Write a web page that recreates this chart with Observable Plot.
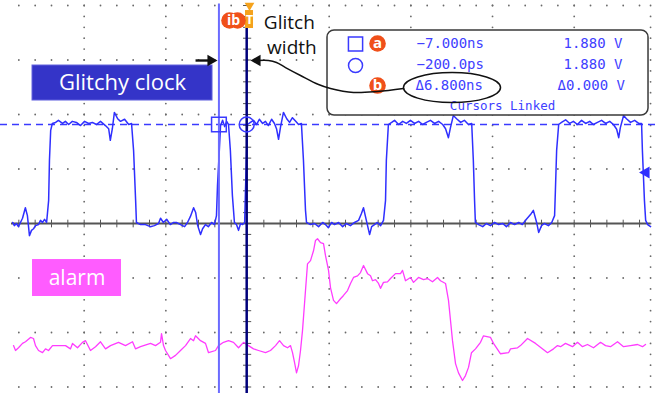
<!DOCTYPE html>
<html><head><meta charset="utf-8">
<script src="https://cdn.jsdelivr.net/npm/d3@7"></script>
<script src="https://cdn.jsdelivr.net/npm/@observablehq/plot@0.6"></script>
<style>html,body{margin:0;padding:0;background:#fff;} #chart svg{display:block}</style>
</head><body><div id="chart"></div>
<script>
// ---- Data: time in ns, amplitude in volts ----
const clock = [
 [-57.5,0.02],[-57.1,-0.04],[-56.6,0],[-56.1,-0.06],[-55.6,0.02],[-55.1,0.10],[-54.4,0.30],[-53.9,0.15],[-53.4,-0.23],[-52.9,-0.13],[-52.4,-0.10],[-51.9,-0.04],[-51.2,-0.02],[-50.7,0.06],[-50.2,0.02],[-49.7,0.08],[-49.2,0.02],[-48.7,0.44],[-48.5,1.20],[-48.2,1.77],[-47.8,1.90],
 [-47.0,1.92],[-46.3,1.96],[-45.3,1.90],[-44.6,1.94],[-43.8,1.88],[-42.9,1.94],[-41.9,1.92],[-40.9,1.86],[-39.9,1.94],[-38.9,1.90],[-38.0,1.92],[-37.0,1.88],[-36.0,1.94],[-34.8,1.86],[-34.0,1.80],[-33.6,1.58],[-33.1,1.80],[-32.6,2.11],[-31.8,1.99],[-31.1,1.94],[-30.1,1.98],[-29.1,1.88],[-28.4,1.90],[-27.9,1.39],[-27.4,0.44],[-27.2,0.02],
 [-26.2,-0.02],[-25.0,-0.02],[-23.8,-0.06],[-22.8,-0.04],[-21.8,0],[-21.3,0.10],[-20.6,0.02],[-19.8,0.08],[-18.9,-0.02],[-18.1,0.02],[-17.4,0.02],[-16.4,-0.02],[-15.4,-0.06],[-14.7,0.02],[-14.0,0.13],[-13.2,0.30],[-12.7,0.21],[-12.2,-0.04],[-11.5,-0.21],[-11.0,-0.10],[-10.3,-0.02],[-9.6,-0.06],[-8.8,0.02],[-8.1,-0.02],[-7.6,0.15],[-7.35,0.72],[-6.9,1.39],[-6.6,1.86],
 [-6.1,1.96],[-5.6,1.84],[-5.1,1.94],[-4.65,1.88],[-4.2,1.39],[-3.7,0.53],[-3.2,0.02],[-2.7,-0.02],[-2.2,-0.13],[-1.7,0],[-1.2,-0.02],[-0.7,0.02],[-0.5,0.63],[-0.2,1.39],[0,1.88],
 [0.7,1.92],[1.5,1.96],[2.2,1.88],[2.9,1.98],[3.7,1.90],[4.4,1.94],[5.1,1.86],[5.9,1.98],[6.6,1.90],[7.1,1.80],[7.6,1.60],[8.1,1.84],[8.8,2.11],[9.6,1.99],[10.3,1.92],[11.0,2.01],[11.8,1.94],[12.5,1.88],[13.2,1.90],[13.7,1.20],[14.2,0.25],[14.45,0.02],
 [15.4,-0.02],[16.4,0],[17.4,-0.06],[18.4,0.02],[19.1,-0.02],[19.8,-0.08],[20.6,0.02],[21.3,-0.02],[22.3,0.02],[23.3,-0.06],[24.2,0],[25.2,-0.04],[26.2,0.02],[27.2,0.06],[27.9,0.19],[28.4,0.30],[29.1,0.06],[29.9,-0.21],[30.4,-0.06],[31.1,-0.02],[31.8,0.02],[32.6,-0.04],[33.3,0.06],[33.8,0.44],[34.0,1.20],[34.5,1.88],
 [35.3,1.92],[36.0,1.96],[37.0,1.88],[38.0,1.94],[38.9,1.90],[39.9,1.96],[40.9,1.90],[41.9,1.94],[42.9,1.88],[43.8,1.92],[44.8,1.96],[45.8,1.90],[46.8,1.94],[47.8,1.88],[48.5,1.80],[49.2,1.63],[49.7,1.82],[50.4,2.05],[51.2,1.99],[52.2,1.92],[53.1,1.96],[54.1,1.88],[54.9,1.90],[55.3,1.20],[55.6,0.44],[55.8,0.02],
 [56.6,-0.02],[57.6,-0.06],[58.5,0],[59.5,-0.04],[60.5,0.02],[61.5,-0.02],[62.5,0],[63.4,-0.06],[64.4,0.02],[65.4,-0.02],[66.4,0.02],[67.3,-0.02],[68.3,0.08],[69.3,0.17],[70.0,0.25],[70.8,0.02],[71.3,-0.17],[72.0,-0.04],[72.7,0],[73.7,-0.04],[74.5,0.02],[75.2,0.15],[75.4,0.63],[75.7,1.39],[76.2,1.88],
 [76.9,1.92],[77.9,1.97],[78.9,1.90],[79.8,1.94],[80.8,1.88],[81.8,1.96],[82.8,1.90],[83.8,1.94],[84.7,1.88],[85.7,1.92],[86.7,1.96],[87.7,1.90],[88.7,1.94],[89.6,1.88],[90.4,1.79],[90.9,1.63],[91.3,1.82],[92.1,2.05],[92.8,1.99],[93.8,1.92],[94.8,1.96],[95.8,1.90],[96.5,1.90],[96.7,1.39],[97.2,0.44],[97.5,0.06],[98.0,-0.02],[98.7,-0.06]
];
const alarm = [
 [-57.30,0],[-56.81,-0.09],[-56.08,-0.04],[-55.10,0.04],[-54.37,0.07],[-53.14,0.15],[-52.41,0.13],[-51.92,0],[-51.18,-0.09],[-50.20,-0.13],[-49.47,-0.06],[-48.73,-0.09],[-47.75,0],[-45.79,0],[-44.57,0],[-43.35,-0.06],[-42.86,0.04],[-41.63,-0.04],[-40.41,0.06],[-39.67,0.09],[-38.45,-0.09],[-37.22,-0.02],[-36.00,0.07],[-34.77,-0.06],[-33.55,0],[-31.59,0.06],[-29.88,0],[-28.16,0.07],[-27.43,-0.06],[-26.20,-0.02],[-23.75,0.04],[-22.53,0],[-21.31,0.06],[-21.06,0.22],[-20.57,0],[-20.08,-0.09],[-18.86,-0.24],[-17.63,-0.18],[-16.41,-0.09],[-15.18,0],[-13.96,0.13],[-13.22,0.09],[-12.73,0.18],[-11.51,0.09],[-10.29,0.04],[-9.55,-0.13],[-7.84,-0.09],[-7.10,0],[-5.88,0.06],[-4.65,0.09],[-3.43,0.06],[-2.20,-0.04],[-0.98,0.06],[0.24,0],[1.47,-0.06],[2.69,-0.09],[4.41,-0.13],[5.63,-0.09],[6.86,0],[7.84,0.09],[8.82,0],[9.80,-0.04],[10.53,0],
 [11.02,-0.13],[11.51,-0.31],[12.00,-0.50],[12.49,-0.37],[12.98,-0.09],[13.47,0.28],[14.20,1.01],[14.69,1.50],[15.43,1.56],[16.16,1.74],[16.65,1.93],[17.14,1.96],[17.88,1.89],[18.61,1.87],[19.10,1.65],[19.84,1.38],[20.33,1.06],[21.06,0.83],[21.79,0.77],[22.77,0.86],[23.51,0.92],[24.49,1.01],[25.22,1.14],[25.96,1.25],[26.94,1.28],[27.67,1.34],[28.41,1.47],[29.39,1.32],[30.12,1.28],[30.61,1.19],[31.35,1.21],[32.08,1.14],[32.57,1.05],[33.30,1.16],[34.28,1.17],[35.02,1.23],[36.24,1.32],[37.47,1.32],[37.96,1.38],[38.69,1.19],[39.92,1.25],[40.65,1.16],[41.88,1.25],[43.10,1.21],[44.08,1.23],[45.30,1.17],[46.53,1.25],[47.26,1.19],[48.49,1.14],
 [49.22,0.83],[49.71,0.46],[50.20,0.09],[50.94,-0.33],[51.67,-0.50],[52.65,-0.64],[53.38,-0.55],[54.12,-0.40],[54.85,-0.13],[55.83,-0.06],[57.06,0.06],[57.79,0.18],[59.51,0.15],[60.24,0.04],[61.96,-0.15],[63.92,-0.13],[64.41,-0.06],[66.12,-0.04],[66.85,0],[68.57,0.13],[70.53,0.04],[73.47,-0.13],[74.94,-0.06],[75.92,0],[76.65,-0.02],[77.87,0.04],[79.59,-0.02],[80.81,0.06],[82.04,-0.02],[83.26,0.02],[84.73,-0.04],[86.45,0.06],[87.67,0],[88.89,-0.02],[90.61,0.07],[92.08,-0.02],[93.79,0],[95.51,0.02],[96.73,-0.02],[97.46,0.02]
];
const cursorTimes = [-7.0, -0.2];        // ns  (square cursor, circle cursor)
const cursorLevel = 1.88;                // V
const triggerLevel = 0.97;               // V
const readoutLeft = ["\u22127.000ns", "\u2212200.0ps", "\u03946.800ns"];
const readoutRight = ["1.880 V", "1.880 V", "\u03940.000 V"];
const readoutFooter = "Cursors Linked";
const labelClock = "Glitchy clock";
const labelAlarm = "alarm";
const labelGlitch = ["Glitch", "width"];

// ---- Scope settings ----
const NS_PER_DIV = 20, CH1_V_PER_DIV = 1.035, CH2_V_PER_DIV = 1, CH2_OFFSET_DIV = -2.24;
const X_DOMAIN = [-60.49, 100.40];       // ns visible
const Y_DOMAIN = [-3.119, 4.092];        // divisions visible

const ch1 = v => v / CH1_V_PER_DIV;
const ch2 = v => v / CH2_V_PER_DIV + CH2_OFFSET_DIV;

// graticule
const majorT = [-40, -20, 20, 40, 60, 80, 98.7];
const majorD = [-3, -2, -1, 1, 2, 3, 4];
const minorD = d3.range(-15, 21).map(k => k / 5);
const minorT = d3.range(-14, 25).map(k => k * NS_PER_DIV / 5);
const gridCols = majorT.flatMap(t => minorD.map(d => ({t, d})));
const gridRows = majorD.flatMap(d => minorT.map(t => ({t, d})));
const axisTicksT = minorT.filter(t => t !== 0);
const axisTicksD = minorD.filter(d => d !== 0);

const ORANGE = "#f0501a", TORANGE = "#f5a21c", BLUE = "#2f2fff", TXT = "#4040ff";
const SANS = "Open Sans", MONO = "DejaVu Sans Mono";

const ellipseMark = (index, scales) => {
  const X = scales.x, Y = scales.y;
  const c = {t: 50.2, d: 2.486, rt: 11.88, rd: 0.275};
  const e = document.createElementNS("http://www.w3.org/2000/svg", "ellipse");
  e.setAttribute("cx", X(c.t)); e.setAttribute("cy", Y(c.d));
  e.setAttribute("rx", Math.abs(X(c.t + c.rt) - X(c.t)));
  e.setAttribute("ry", Math.abs(Y(c.d + c.rd) - Y(c.d)));
  e.setAttribute("fill", "none"); e.setAttribute("stroke", "#111"); e.setAttribute("stroke-width", 1.5);
  return e;
};
const connector = [[38.20,2.477],[31.84,2.422],[25.96,2.404],[20.33,2.477],[17.39,2.55],[12.98,2.716],[9.31,2.862],[7.10,2.954],[5.14,2.991],[2.5,2.991]];
const rowY = [3.303, 2.917, 2.532];

const chart = Plot.plot({
  width: 657, height: 393, margin: 0,
  x: {domain: X_DOMAIN, axis: null},
  y: {domain: Y_DOMAIN, axis: null},
  style: {background: "white", overflow: "visible"},
  marks: [
    Plot.dot(gridCols, {x: "t", y: "d", r: 0.9, fill: "#6a6a6a", stroke: null}),
    Plot.dot(gridRows, {x: "t", y: "d", r: 0.9, fill: "#6a6a6a", stroke: null}),
    Plot.ruleY([0], {x1: -57.8, x2: 98.7, stroke: "#555", strokeWidth: 2}),
    Plot.link(axisTicksT, {x1: t => t, x2: t => t, y1: -0.07, y2: 0.07, stroke: "#555", strokeWidth: 1}),
    Plot.link(axisTicksD, {x1: -1.1, x2: 0.9, y1: d => d, y2: d => d, stroke: "#555", strokeWidth: 1}),
    Plot.ruleY([cursorLevel], {y: ch1, x1: X_DOMAIN[0], x2: X_DOMAIN[1], stroke: "#3a3aff", strokeWidth: 1.4, strokeDasharray: "7,5"}),
    Plot.line(alarm, {x: d => d[0], y: d => ch2(d[1]), stroke: "#ff3cff", strokeWidth: 1.3}),
    Plot.line(clock, {x: d => d[0], y: d => ch1(d[1]), stroke: BLUE, strokeWidth: 1.5}),
    Plot.ruleX([cursorTimes[0]], {y1: 4.03, y2: Y_DOMAIN[0], stroke: "#6b6bff", strokeWidth: 2}),
    Plot.ruleX([cursorTimes[1]], {y1: 3.58, y2: Y_DOMAIN[0], stroke: "#00007a", strokeWidth: 2.5}),
    Plot.dot([cursorTimes[0]], {x: t => t, y: ch1(cursorLevel), symbol: "square", r: 8.3, stroke: "#3a3aff", fill: "none", strokeWidth: 1.5}),
    Plot.dot([cursorTimes[1]], {x: t => t, y: ch1(cursorLevel), symbol: "circle", r: 7.5, stroke: "#3a3aff", fill: "none", strokeWidth: 1.5}),
    Plot.dot([triggerLevel], {x: 97.6, y: ch1, symbol: "triangle", rotate: -90, r: 4.5, fill: BLUE, stroke: null}),
    // trigger / cursor badges at top
    Plot.rect([0], {x1: -0.49, x2: 1.47, y1: 3.908, y2: 3.578, fill: TORANGE}),
    Plot.dot([0], {x: 0.49, y: 4.0, symbol: "triangle", rotate: 180, r: 3.6, fill: TORANGE, stroke: null}),
    Plot.text(["T"], {x: 0.49, y: 3.74, text: d => d, fill: "white", fontWeight: "bold", fontSize: 13, fontFamily: SANS}),
    Plot.dot([-4.41, -2.45], {x: t => t, y: 3.725, r: 8.3, fill: ORANGE, stroke: null}),
    Plot.text(["ib"], {x: -3.43, y: 3.725, text: d => d, fill: "white", fontWeight: "bold", fontSize: 14, fontFamily: SANS}),
    // label boxes
    Plot.rect([0], {x1: -52.65, x2: -8.57, y1: 2.899, y2: 2.257, fill: "#3434c8", stroke: "#6060dd", strokeWidth: 1}),
    Plot.text([labelClock], {x: -30.61, y: 2.587, text: d => d, fill: "white", fontSize: 22, fontFamily: SANS}),
    Plot.rect([0], {x1: -52.65, x2: -30.86, y1: -0.661, y2: -1.339, fill: "#ff5cff"}),
    Plot.text([labelAlarm], {x: -41.75, y: -1.0, text: d => d, fill: "white", fontSize: 21, fontFamily: SANS}),
    Plot.text([labelGlitch[0]], {x: 4.0, y: 3.683, text: d => d, textAnchor: "start", fill: "#111", fontSize: 19, fontFamily: SANS}),
    Plot.text([labelGlitch[1]], {x: 4.8, y: 3.22, text: d => d, textAnchor: "start", fill: "#111", fontSize: 19, fontFamily: SANS}),
    Plot.link([0], {x1: -12.73, x2: -9.2, y1: 2.991, y2: 2.991, stroke: "#111", strokeWidth: 2.4}),
    Plot.dot([0], {x: -8.99, y: 2.991, symbol: "triangle", rotate: 90, r: 4.3, fill: "#111", stroke: null}),
    // readout box
    Plot.rect([0], {x1: 19.59, x2: 98.2, y1: 3.541, y2: 1.982, fill: "white", stroke: "#3a3a3a", strokeWidth: 1.5, rx: 7}),
    Plot.dot([0], {x: 26.45, y: 3.294, symbol: "square", r: 8, stroke: "#3a3aff", fill: "none", strokeWidth: 1.5}),
    Plot.dot([0], {x: 26.45, y: 2.899, symbol: "circle", r: 7, stroke: "#3a3aff", fill: "none", strokeWidth: 1.5}),
    Plot.dot([rowY[0], rowY[2]], {x: 31.84, y: d => d, r: 8.3, fill: ORANGE, stroke: null}),
    Plot.text(["a", "b"], {x: 31.84, y: (d, i) => [rowY[0], rowY[2]][i], text: d => d, fill: "white", fontWeight: "bold", fontSize: 15, fontFamily: SANS}),
    Plot.text(readoutLeft, {x: (d, i) => i === 2 ? 41.14 : 41.39, y: (d, i) => rowY[i], text: d => d, textAnchor: "start", fill: TXT, fontSize: 14, fontFamily: MONO}),
    Plot.text(readoutRight, {x: (d, i) => i === 2 ? 75.92 : 77.38, y: (d, i) => rowY[i], text: d => d, textAnchor: "start", fill: TXT, fontSize: 14, fontFamily: MONO}),
    Plot.text([readoutFooter], {x: 62.45, y: 2.165, text: d => d, fill: TXT, fontSize: 12.5, fontFamily: MONO}),
    ellipseMark,
    Plot.line(connector, {x: d => d[0], y: d => d[1], curve: "catmull-rom", stroke: "#111", strokeWidth: 1.5}),
    Plot.dot([0], {x: 2.38, y: 2.991, symbol: "triangle", rotate: -90, r: 4.3, fill: "#111", stroke: null})
  ]
});
document.getElementById("chart").appendChild(chart);
</script>
</body></html>
